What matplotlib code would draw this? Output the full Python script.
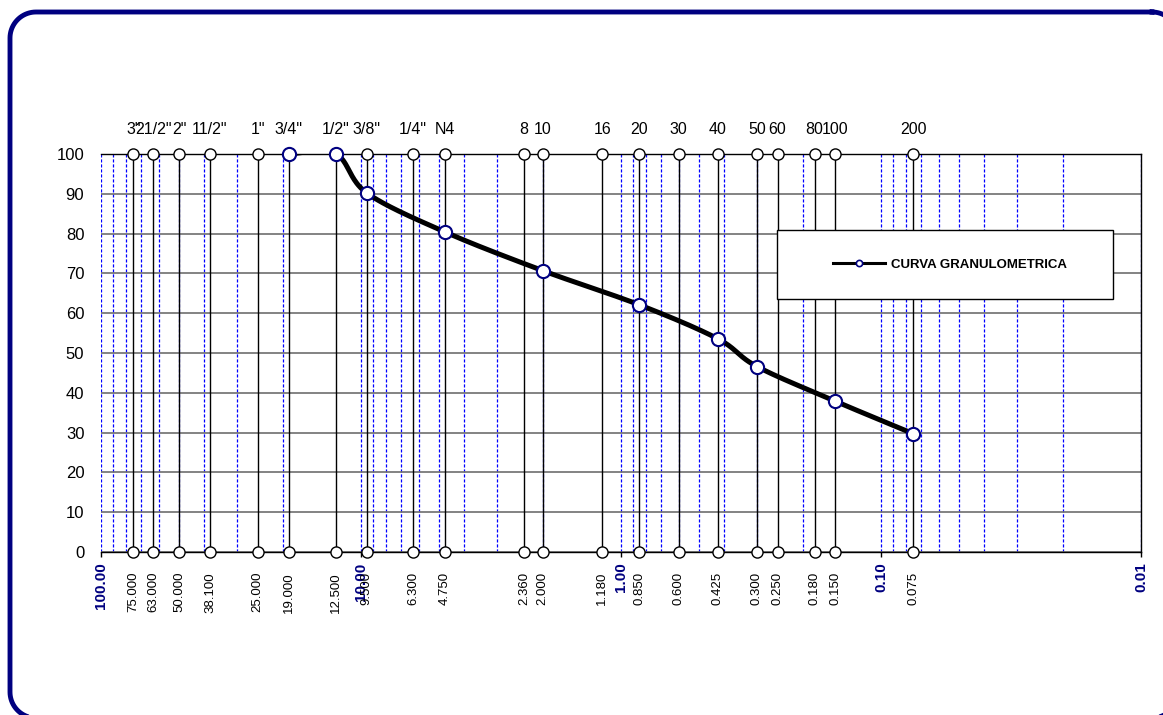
import numpy as np
import matplotlib
matplotlib.use("Agg")
import matplotlib.pyplot as plt
from matplotlib.lines import Line2D
from matplotlib.patches import Rectangle
from matplotlib.ticker import LogLocator, NullFormatter

plt.rcParams['font.family'] = ['Liberation Sans', 'DejaVu Sans']

# sieve series (mm) and their names
sieve_mm = [75.0, 63.0, 50.0, 38.1, 25.0, 19.0, 12.5, 9.5, 6.3, 4.75,
            2.36, 2.0, 1.18, 0.85, 0.6, 0.425, 0.3, 0.25, 0.18, 0.15, 0.075]
sieve_names = ['3"', '21/2"', '2"', '11/2"', '1"', '3/4"', '1/2"', '3/8"', '1/4"', 'N4',
               '8', '10', '16', '20', '30', '40', '50', '60', '80', '100', '200']

# grading curve: opening (mm) vs % passing
curve_mm = [19.0, 12.5, 9.5, 4.75, 2.0, 0.85, 0.425, 0.3, 0.15, 0.075]
curve_pass = [100.0, 100.0, 90.2, 80.4, 70.7, 62.1, 53.6, 46.6, 37.9, 29.7]

decades = [100, 10, 1, 0.1, 0.01]
decade_labels = ['100.00', '10.00', '1.00', '0.10', '0.01']
yticks = list(range(0, 101, 10))

NAVY = '#000080'


def smooth(xs, ys, px_dec=262.0, px_unit=3.98, n=40):
    # bezier smoothing done in screen-like units (log x, linear y)
    P = np.column_stack([np.log10(xs) * px_dec, np.array(ys) * px_unit])
    out = []
    for i in range(len(P) - 1):
        p0 = P[i - 1] if i > 0 else P[i]
        p1, p2 = P[i], P[i + 1]
        p3 = P[i + 2] if i + 2 < len(P) else P[i + 1]
        c1 = p1 + (p2 - p0) / 6.0
        c2 = p2 - (p3 - p1) / 6.0
        t = np.linspace(0, 1, n)[:, None]
        seg = ((1 - t) ** 3) * p1 + 3 * ((1 - t) ** 2) * t * c1 + 3 * (1 - t) * t ** 2 * c2 + t ** 3 * p2
        out.append(seg if i == 0 else seg[1:])
    out = np.vstack(out)
    return 10 ** (out[:, 0] / px_dec), out[:, 1] / px_unit


def rounded_rect(x0, y0, x1, y1, r, n=20):
    # outline of a rounded rectangle, y pointing down
    pts = []
    corners = [(x1 - r, y0 + r, -90, 0), (x1 - r, y1 - r, 0, 90),
               (x0 + r, y1 - r, 90, 180), (x0 + r, y0 + r, 180, 270)]
    for cx, cy, a0, a1 in corners:
        a = np.radians(np.linspace(a0, a1, n))
        pts.append(np.column_stack([cx + r * np.cos(a), cy + r * np.sin(a)]))
    pts = np.vstack(pts)
    return np.vstack([pts, pts[:1]])


W, H = 1163, 715
fig = plt.figure(figsize=(W / 100, H / 100), dpi=100)
fig.patch.set_facecolor('white')

# background axes in pixel units for the rounded frame
bg = fig.add_axes([0, 0, 1, 1], zorder=-1)
bg.set_xlim(0, W)
bg.set_ylim(H, 0)
bg.axis('off')
outline = rounded_rect(10, 12, 1178, 718, 26)
bg.plot(outline[:, 0], outline[:, 1], color=NAVY, linewidth=3.5, clip_on=False)

ax = fig.add_axes([101 / W, (H - 552) / H, (1141 - 101) / W, (552 - 154) / H])
ax.set_xscale('log')
ax.set_xlim(100, 0.01)
ax.set_ylim(0, 100)

# log grid (blue dotted) and horizontal grid
ax.xaxis.set_minor_locator(LogLocator(base=10, subs=range(2, 10), numticks=20))
ax.xaxis.set_minor_formatter(NullFormatter())
ax.set_xticks(decades)
ax.set_yticks(yticks)
ax.grid(which='major', axis='x', color='#0000ff', linestyle=(0, (2.5, 1.5)), linewidth=0.9)
ax.grid(which='minor', axis='x', color='#0000ff', linestyle=(0, (2.5, 1.5)), linewidth=0.9)
ax.grid(which='major', axis='y', color='#6e6e6e', linewidth=1.2)
ax.set_axisbelow(True)

ax.spines['left'].set_visible(False)
for s in ['top', 'bottom', 'right']:
    ax.spines[s].set_color('black')
    ax.spines[s].set_linewidth(1.0)

ax.tick_params(axis='y', length=0, pad=12, labelsize=12)
ax.set_xticklabels(decade_labels, rotation=90, fontsize=11, fontweight='bold', color=NAVY)
ax.tick_params(axis='x', which='major', direction='out', length=3.5, width=1, pad=4)
ax.tick_params(axis='x', which='minor', length=0)

# sieve lines with end markers
ax.vlines(sieve_mm, 0, 100, colors='black', linewidth=1.0, zorder=2)
n = len(sieve_mm)
ax.plot(sieve_mm, [100] * n, 'o', ms=8, mfc='white', mec='black', mew=1.0, clip_on=False, zorder=3)
ax.plot(sieve_mm, [0] * n, 'o', ms=8, mfc='white', mec='black', mew=1.0, clip_on=False, zorder=3)

for s, name in zip(sieve_mm, sieve_names):
    ax.annotate(name, xy=(s, 100), xytext=(0, 17), textcoords='offset pixels',
                ha='center', va='bottom', fontsize=11.5)
    ax.annotate(f"{s:.3f}", xy=(s, 0), xytext=(0, -20), textcoords='offset pixels',
                ha='center', va='top', rotation=90, fontsize=9.5)

# grading curve
sx, sy = smooth(curve_mm, curve_pass)
ax.plot(sx, sy, color='black', linewidth=3.6, solid_capstyle='round', zorder=4)
ax.plot(curve_mm, curve_pass, 'o', ms=9.5, mfc='white', mec=NAVY, mew=1.5, clip_on=False, zorder=5)

# legend box
ax.add_patch(Rectangle((0.65, 0.636), 0.323, 0.173, transform=ax.transAxes,
                       facecolor='white', edgecolor='black', linewidth=1.0, zorder=6))
handle = Line2D([], [], color='black', linewidth=2.2, marker='o', ms=4.5,
                mfc='white', mec=NAVY, mew=1.2)
leg = ax.legend([handle], ['CURVA GRANULOMETRICA'], loc='center', bbox_to_anchor=(0.816, 0.7225),
                frameon=False, handlelength=4.0, handletextpad=0.4,
                prop={'weight': 'bold', 'size': 9.5})
leg.set_zorder(7)

fig.savefig('out.png', dpi=100)
